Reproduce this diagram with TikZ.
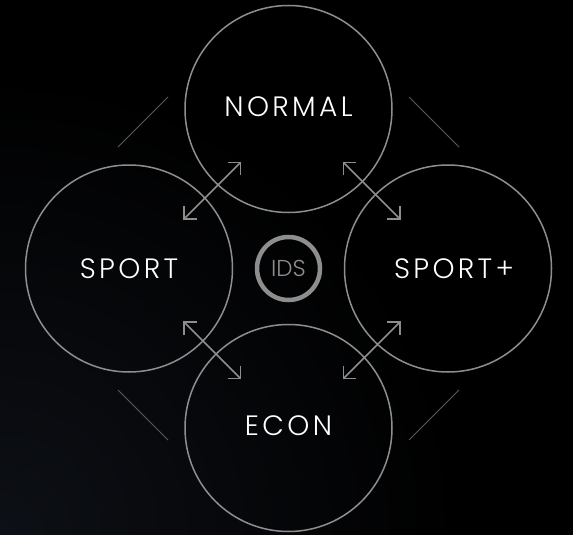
\documentclass[tikz,border=0pt]{standalone}
\usepackage{fontspec}
\setmainfont{Poppins}
\newfontfamily\modeFont[LetterSpace=12, UprightFont=* Light]{Poppins}
\newfontfamily\idsFont[UprightFont=* Light]{Poppins}
\usetikzlibrary{calc, arrows.meta}

\begin{document}
\begin{tikzpicture}[x=1pt, y=-1pt]
    % Define spacing of the modes
    \def\modeGap{159.5}

    \definecolor{ringColour}{HTML}{8E8E8E}
    \definecolor{tickColour}{HTML}{5A5A5A}
    \definecolor{bgLow}{HTML}{0D1016}

    \tikzset{
        mode/.style={circle, draw=ringColour, line width=1.5pt, minimum size=207pt, inner sep=0pt},
        modeText/.style={text=white, font=\modeFont\fontsize{28}{28}\selectfont, inner sep=0pt},
        link/.style={draw=ringColour, line width=1.5pt,
            {Straight Barb[length=9pt,width=18pt]}-{Straight Barb[length=9pt,width=18pt]},
            shorten <=72pt, shorten >=72pt, transform canvas={xshift=3.5pt, yshift=-2pt}},
        tick/.style={draw=tickColour, line width=0.9pt}
    }

    % Draw background
    \useasboundingbox (0,0) rectangle (573,535);
    \fill[black] (0,0) rectangle (573,535);
    \begin{scope}
        \clip (0,0) rectangle (573,535);
        \shade[inner color=bgLow, outer color=black] (0,535) circle (460);
    \end{scope}

    % Define the centre of the dial
    \coordinate (hub) at (288.5,268.5);

    % Draw the four modes
    \node[mode, label={[modeText, yshift=2pt]center:NORMAL}] (normal) at ($(hub)+(0,-\modeGap)$) {};
    \node[mode, label={[modeText]center:SPORT}] (sport) at ($(hub)+(-\modeGap,0)$) {};
    \node[mode, label={[modeText, xshift=6pt]center:SPORT+}] (sportplus) at ($(hub)+(\modeGap,0)$) {};
    \node[mode, label={[modeText, yshift=2pt]center:ECON}] (econ) at ($(hub)+(0,\modeGap)$) {};

    % Draw the IDS badge
    \node[circle, draw=ringColour, line width=4.5pt, minimum size=63pt, inner sep=0pt,
        text=ringColour, font=\idsFont\fontsize{23}{23}\selectfont] (ids) at (hub) {IDS};

    % Draw the switching arrows
    \draw[link] (sport.center) -- (normal.center);
    \draw[link] (normal.center) -- (sportplus.center);
    \draw[link] (sport.center) -- (econ.center);
    \draw[link] (sportplus.center) -- (econ.center);

    % Draw the outer ticks
    \foreach \sx in {-1,1}
        \foreach \sy in {-1,1}
            \draw[tick] ($(hub)+(\sx*120.5,\sy*171.5)$) -- ($(hub)+(\sx*170.5,\sy*121.5)$);

\end{tikzpicture}
\end{document}
